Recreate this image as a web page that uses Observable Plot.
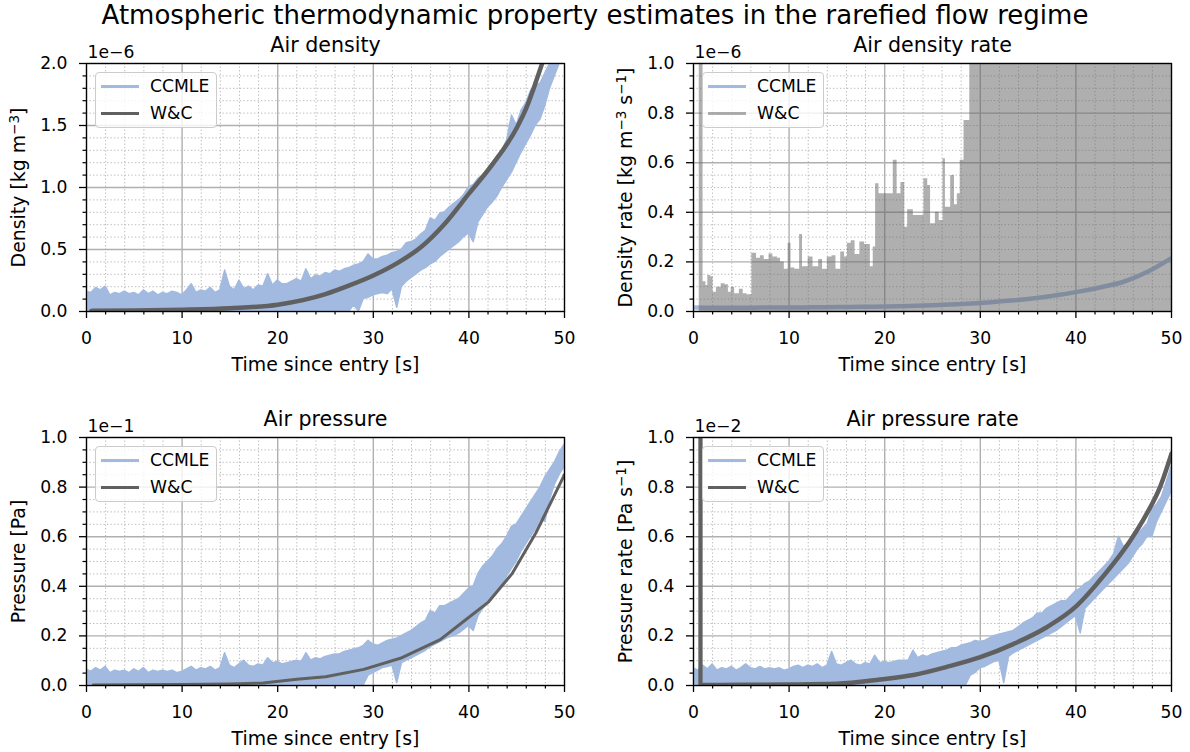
<!DOCTYPE html>
<html><head><meta charset="utf-8">
<script src="https://cdn.jsdelivr.net/npm/d3@7"></script>
<script src="https://cdn.jsdelivr.net/npm/@observablehq/plot@0.6"></script>
<style>
html,body{margin:0;padding:0;background:#fff;}
#root{position:relative;width:1190px;height:752px;overflow:hidden;font-family:"DejaVu Sans",sans-serif;color:#000;}
.suptitle{position:absolute;left:0;top:0;width:1190px;text-align:center;font-size:26px;line-height:30px;white-space:nowrap;}
.panel{position:absolute;}
.legend{position:absolute;box-sizing:border-box;background:rgba(255,255,255,0.8);border:1px solid #cccccc;border-radius:4px;}
.legend .sw{position:absolute;height:3px;}
.legend .lb{position:absolute;font-size:17.2px;line-height:20px;white-space:nowrap;}
</style>
</head><body><div id="root"><div class="suptitle">Atmospheric thermodynamic property estimates in the rarefied flow regime</div></div>
<script>
// ---------- data ----------
const seriesNames = ["CCMLE", "W&C"];
const xMajor = [0, 10, 20, 30, 40, 50];
const xMinor = [2,4,6,8,12,14,16,18,22,24,26,28,32,34,36,38,42,44,46,48];
const yMajorDensity = [0.0, 0.5, 1.0, 1.5, 2.0];
const yMinorDensity = [0.1,0.2,0.3,0.4,0.6,0.7,0.8,0.9,1.1,1.2,1.3,1.4,1.6,1.7,1.8,1.9];
const yMajorUnit = [0.0, 0.2, 0.4, 0.6, 0.8, 1.0];
const yMinorUnit = [0.05,0.1,0.15,0.25,0.3,0.35,0.45,0.5,0.55,0.65,0.7,0.75,0.85,0.9,0.95];

// sample times (s) of the CCMLE envelopes, every 0.5 s
const tBand = d3.range(0, 101).map(i => i / 2);

// Air density CCMLE envelope (x1e-6 kg m^-3)
const densityHi = [0.16,0.15,0.19,0.17,0.20,0.13,0.15,0.14,0.16,0.14,
 0.15,0.13,0.17,0.14,0.16,0.13,0.15,0.14,0.16,0.15,
 0.13,0.17,0.22,0.15,0.17,0.16,0.19,0.15,0.17,0.33,
 0.20,0.17,0.25,0.18,0.20,0.17,0.21,0.20,0.30,0.21,
 0.25,0.22,0.22,0.24,0.26,0.24,0.34,0.26,0.29,0.28,
 0.31,0.30,0.33,0.32,0.34,0.35,0.37,0.38,0.40,0.46,
 0.42,0.42,0.44,0.45,0.47,0.48,0.50,0.55,0.56,0.58,
 0.62,0.65,0.75,0.73,0.79,0.80,0.84,0.87,0.90,0.94,
 1.00,1.02,1.07,1.10,1.15,1.20,1.25,1.30,1.38,1.58,
 1.50,1.62,1.68,1.78,1.82,1.84,1.92,2.00,2.10,2.20,
 2.30];
const densityLo = [0,0,0,0,0,0,0,0,0,0,
 0,0,0,0,0,0,0,0,0,0,
 0,0,0,0,0,0,0,0,0,0,
 0,0,0,0,0,0,0,0,0,0,
 0,0,0,0,0,0,0,0,0,0,
 0,0,0,0,0,0,
 0.05,0.00,0.10,0.11,0.13,0.14,0.15,0.14,0.18,0.03,
 0.20,0.24,0.27,0.30,0.33,0.35,0.38,0.40,0.44,0.47,
 0.50,0.53,0.56,0.60,0.63,0.56,0.72,0.78,0.84,0.88,
 0.93,1.00,1.06,1.12,1.20,1.28,1.35,1.42,1.50,1.55,
 1.66,1.80,1.90,2.00,2.10];
// Air density W&C [t, value x1e-6]
const wcDensity = [[0.5,0.005],[5,0.008],[10,0.015],[15,0.027],[20,0.055],[25,0.14],[27.5,0.21],[30,0.29],[32.5,0.39],[35,0.52],[37.5,0.71],[40,0.95],[42.5,1.19],[45,1.48],[46,1.64],[47,1.85],[48,2.08]];

// Air density rate CCMLE [t, value x1e-6 kg m^-3 s^-1]
const ccmleDensityRate = [[0,0.016],[2.5,0.015],[5,0.015],[7.5,0.016],[10,0.016],[12.5,0.017],[15,0.018],[17.5,0.019],[20,0.02],[22.5,0.022],[25,0.025],[27.5,0.029],[30,0.034],[32.5,0.042],[35,0.05],[37.5,0.063],[40,0.078],[42.5,0.097],[45,0.12],[47.5,0.16],[50,0.215]];
// Air density rate W&C upper envelope (oscillates down to 0) [t, value x1e-6]
const wcDensityRate = [[0,0],[0.6,3],[1.0,0.12],[1.3,0.105],[1.5,0.145],[1.8,0.14],[2.05,0.078],[2.4,0.098],[2.9,0.112],[3.3,0.108],[3.65,0.078],[3.95,0.098],[4.3,0.072],[4.8,0.09],[5.2,0.072],[5.6,0.068],
 [6.1,0.235],[6.6,0.215],[7.0,0.225],[7.4,0.21],[7.9,0.232],[8.3,0.22],[8.8,0.215],[9.1,0.2],[9.5,0.17],[9.9,0.275],[10.2,0.175],[10.6,0.17],[11.1,0.31],[11.4,0.18],[12.0,0.22],[12.5,0.18],[13.1,0.21],[13.5,0.17],[14.0,0.22],[14.5,0.225],[14.9,0.17],[15.4,0.24],[15.8,0.22],[16.1,0.275],[16.5,0.285],[16.9,0.23],[17.4,0.28],[17.9,0.27],[18.5,0.18],[18.8,0.26],
 [19.05,0.515],[19.4,0.475],[20.9,0.61],[21.3,0.475],[21.7,0.52],[22.1,0.34],[22.4,0.41],[23.0,0.387],[24.1,0.535],[24.5,0.508],[24.8,0.354],[25.3,0.40],[25.7,0.367],[26.1,0.616],[26.35,0.42],[26.9,0.548],[27.3,0.43],[27.6,0.475],[27.9,0.61],[28.3,0.77],[28.9,3],[50,3]];

// Air pressure CCMLE envelope (x1e-1 Pa)
const pressureHi = [0.065,0.055,0.07,0.06,0.075,0.05,0.06,0.055,0.06,0.05,
 0.065,0.055,0.07,0.05,0.06,0.055,0.06,0.055,0.06,0.05,
 0.055,0.065,0.075,0.06,0.07,0.065,0.075,0.06,0.07,0.13,
 0.08,0.07,0.085,0.1,0.08,0.075,0.085,0.08,0.11,0.09,
 0.095,0.085,0.09,0.095,0.1,0.095,0.13,0.1,0.11,0.105,
 0.115,0.12,0.125,0.125,0.135,0.14,0.145,0.15,0.16,0.18,
 0.165,0.16,0.17,0.18,0.185,0.19,0.2,0.21,0.22,0.235,
 0.25,0.26,0.3,0.29,0.32,0.32,0.33,0.34,0.35,0.37,
 0.39,0.4,0.45,0.48,0.5,0.52,0.55,0.57,0.6,0.64,
 0.65,0.68,0.71,0.74,0.77,0.8,0.84,0.87,0.9,0.94,
 0.97];
const pressureLo = [0,0,0,0,0,0,0,0,0,0,
 0,0,0,0,0,0,0,0,0,0,
 0,0,0,0,0,0,0,0,0,0,
 0,0,0,0,0,0,0,0,0,0,
 0,0,0,0,0,0,0,0,0,0,
 0,0,0,0,0,0,0,0,
 0.0,0.04,0.05,0.06,0.07,0.075,0.08,0.01,0.09,0.1,
 0.11,0.12,0.13,0.14,0.155,0.165,0.175,0.185,0.195,0.2,
 0.21,0.225,0.24,0.22,0.28,0.31,0.33,0.35,0.38,0.41,
 0.44,0.47,0.5,0.54,0.57,0.6,0.63,0.67,0.66,0.75,
 0.81,0.85,0.88];
// Air pressure W&C [t, value x1e-1]
const wcPressure = [[0.7,0.002],[5,0.003],[10,0.004],[15,0.006],[18.5,0.01],[22,0.025],[25,0.035],[29,0.065],[33,0.112],[37,0.185],[39.5,0.26],[42,0.335],[44.5,0.45],[47,0.615],[50,0.85]];

// Air pressure rate CCMLE envelope (x1e-2 Pa s^-1)
const pressureRateHi = [0.07,0.06,0.08,0.065,0.085,0.06,0.07,0.065,0.075,0.06,
 0.07,0.085,0.07,0.065,0.075,0.065,0.07,0.065,0.07,0.06,
 0.065,0.075,0.08,0.07,0.08,0.075,0.085,0.07,0.08,0.135,
 0.085,0.08,0.09,0.1,0.085,0.08,0.09,0.085,0.12,0.09,
 0.095,0.09,0.095,0.1,0.1,0.1,0.14,0.11,0.12,0.115,
 0.125,0.13,0.135,0.14,0.15,0.15,0.16,0.165,0.17,0.18,
 0.175,0.18,0.19,0.2,0.205,0.21,0.215,0.22,0.235,0.25,
 0.26,0.27,0.29,0.29,0.31,0.32,0.33,0.34,0.34,0.36,
 0.38,0.39,0.41,0.42,0.44,0.46,0.48,0.5,0.53,0.6,
 0.56,0.57,0.59,0.61,0.63,0.65,0.71,0.73,0.76,0.82,
 0.88];
const pressureRateLo = [0,0,0,0,0,0,0,0,0,0,
 0,0,0,0,0,0,0,0,0,0,
 0,0,0,0,0,0,0,0,0,0,
 0,0,0,0,0,0,0,0,0,0,
 0,0,0,0,0,0,0,0,0,0,
 0,0,0,0,0,0,0,
 0.0,0.04,0.05,0.07,0.075,0.085,0.095,0.1,0.01,0.115,
 0.13,0.14,0.15,0.16,0.17,0.18,0.19,0.2,0.21,0.22,
 0.235,0.25,0.265,0.28,0.21,0.31,0.33,0.35,0.37,0.39,
 0.41,0.43,0.45,0.47,0.49,0.52,0.55,0.57,0.6,0.6,
 0.66,0.7,0.74,0.78];
// Air pressure rate W&C [t, value x1e-2] and its initial spike time
const wcPressureRate = [[0.9,0.002],[5,0.003],[10,0.004],[15,0.007],[19.5,0.024],[23,0.042],[26.5,0.075],[30,0.114],[33.5,0.168],[36.9,0.234],[40.1,0.322],[42.2,0.41],[43.9,0.49],[45.7,0.585],[47.4,0.692],[48.8,0.80],[50,0.935]];
const wcPressureRateSpike = [0.73];

for (const [n, a] of [["densityHi",densityHi],["densityLo",densityLo],["pressureHi",pressureHi],["pressureLo",pressureLo],["pressureRateHi",pressureRateHi],["pressureRateLo",pressureRateLo]])
  if (a.length !== tBand.length) throw new Error(n + " length " + a.length);

// ---------- styling ----------
const BLUE = "#a2badf";
const DARK = "#606060";
const GRID = "#b0b0b0";
const band = (hi, lo) => tBand.map((t, i) => ({t, hi: hi[i], lo: lo[i]}));

const root = document.getElementById("root");
const FRAME_W = 478, FRAME_H = 248, MT = 33, MB = 65;
const SVGNS = "http://www.w3.org/2000/svg";

// render a label given as [text, superscript, text, superscript, ...] with real superscripts
function setSuperscripts(textEl, parts) {
  while (textEl.firstChild) textEl.removeChild(textEl.firstChild);
  parts.forEach((p, i) => {
    const ts = document.createElementNS(SVGNS, "tspan");
    ts.textContent = p;
    if (i % 2 === 1) {
      ts.setAttribute("font-size", "13.5px");
      ts.setAttribute("dy", "-0.42em");
    } else if (i > 0) {
      ts.setAttribute("dy", "0.31em");
    }
    textEl.appendChild(ts);
  });
}

function panel({left, top, frameLeft, yDomain, yMajor, yMinor, title, offset, yLabelParts, marks, legend}) {
  const ml = frameLeft - left;
  const width = 595;
  const mr = width - ml - FRAME_W;
  const yLabel = yLabelParts.join("");
  const svg = Plot.plot({
    width, height: MT + FRAME_H + MB,
    marginLeft: ml, marginRight: mr, marginTop: MT, marginBottom: MB,
    x: {domain: [0, 50]},
    y: {domain: yDomain},
    style: {fontFamily: "DejaVu Sans, sans-serif", fontSize: "17.2px", color: "#000", background: "transparent", overflow: "visible"},
    marks: [
      Plot.gridX(xMinor, {stroke: GRID, strokeOpacity: 0.9, strokeWidth: 1, strokeDasharray: "1.3,2.2"}),
      Plot.gridY(yMinor, {stroke: GRID, strokeOpacity: 0.9, strokeWidth: 1, strokeDasharray: "1.3,2.2"}),
      Plot.gridX(xMajor, {stroke: GRID, strokeOpacity: 1, strokeWidth: 1.4}),
      Plot.gridY(yMajor, {stroke: GRID, strokeOpacity: 1, strokeWidth: 1.4}),
      ...marks,
      Plot.frame({stroke: "#000", strokeWidth: 1.3}),
      Plot.axisX({ticks: xMinor, tickSize: 3.5, tickFormat: () => "", label: null, strokeWidth: 1.2}),
      Plot.axisX({ticks: xMajor, tickSize: 7, tickPadding: 13, tickFormat: d => String(d), label: null, strokeWidth: 1.3}),
      Plot.axisY({ticks: yMinor, tickSize: 3.5, tickFormat: () => "", label: null, strokeWidth: 1.2}),
      Plot.axisY({ticks: yMajor, tickSize: 7, tickPadding: 12, tickFormat: d => d.toFixed(1), label: null, strokeWidth: 1.3}),
      Plot.text([title], {frameAnchor: "top", dy: -12, lineAnchor: "bottom", fontSize: 20.6}),
      Plot.text([offset], {frameAnchor: "top-left", dy: -6, dx: 1, lineAnchor: "bottom", textAnchor: "start", fontSize: 17.2}),
      Plot.text([yLabel], {frameAnchor: "left", rotate: -90, dx: -68, lineAnchor: "middle", textAnchor: "middle", fontSize: 18.9, className: "ylab"}),
      Plot.text(["Time since entry [s]"], {frameAnchor: "bottom", dy: 53, lineAnchor: "middle", fontSize: 18.9})
    ]
  });
  if (yLabelParts.length > 1) {
    svg.querySelectorAll("text").forEach(t => { if (t.textContent === yLabel) setSuperscripts(t, yLabelParts); });
  }
  const wrap = document.createElement("div");
  wrap.className = "panel";
  wrap.style.left = left + "px";
  wrap.style.top = top + "px";
  wrap.appendChild(svg);
  root.appendChild(wrap);

  // legend inside the upper-left corner of the frame
  const lg = document.createElement("div");
  lg.className = "legend";
  lg.style.left = (frameLeft + 9) + "px";
  lg.style.top = (top + MT + 9) + "px";
  lg.style.width = "122px";
  lg.style.height = "56px";
  legend.forEach((c, i) => {
    const sw = document.createElement("div");
    sw.className = "sw";
    sw.style.left = "5px"; sw.style.width = "38px";
    sw.style.top = (13 + 27 * i - 1.5) + "px";
    sw.style.background = c;
    lg.appendChild(sw);
    const lb = document.createElement("div");
    lb.className = "lb";
    lb.style.left = "54px";
    lb.style.top = (13 + 27 * i - 10) + "px";
    lb.textContent = seriesNames[i];
    lg.appendChild(lb);
  });
  root.appendChild(lg);
}

// Air density
panel({
  left: 0, top: 30, frameLeft: 86,
  yDomain: [0, 2.0], yMajor: yMajorDensity, yMinor: yMinorDensity,
  title: "Air density", offset: "1e\u22126", yLabelParts: ["Density [kg m", "\u22123", "]"],
  legend: [BLUE, DARK],
  marks: [
    Plot.areaY(band(densityHi, densityLo), {x: "t", y1: "lo", y2: "hi", fill: BLUE, stroke: BLUE, strokeWidth: 1.5, curve: "linear", clip: true}),
    Plot.line(wcDensity, {x: d => d[0], y: d => d[1], stroke: DARK, strokeWidth: 4.5, curve: "monotone-x", clip: true})
  ]
});

// Air density rate
panel({
  left: 595, top: 30, frameLeft: 693,
  yDomain: [0, 1.0], yMajor: yMajorUnit, yMinor: yMinorUnit,
  title: "Air density rate", offset: "1e\u22126", yLabelParts: ["Density rate [kg m", "\u22123", " s", "\u22121", "]"],
  legend: [BLUE, "rgba(96,96,96,0.5)"],
  marks: [
    Plot.line(ccmleDensityRate, {x: d => d[0], y: d => d[1], stroke: BLUE, strokeWidth: 4.5, curve: "monotone-x", clip: true}),
    Plot.areaY(wcDensityRate, {x: d => d[0], y1: 0, y2: d => d[1], fill: DARK, fillOpacity: 0.5, curve: "step-after", clip: true})
  ]
});

// Air pressure
panel({
  left: 0, top: 404, frameLeft: 86,
  yDomain: [0, 1.0], yMajor: yMajorUnit, yMinor: yMinorUnit,
  title: "Air pressure", offset: "1e\u22121", yLabelParts: ["Pressure [Pa]"],
  legend: [BLUE, DARK],
  marks: [
    Plot.areaY(band(pressureHi, pressureLo), {x: "t", y1: "lo", y2: "hi", fill: BLUE, stroke: BLUE, strokeWidth: 1.5, curve: "linear", clip: true}),
    Plot.line(wcPressure, {x: d => d[0], y: d => d[1], stroke: DARK, strokeWidth: 3, clip: true})
  ]
});

// Air pressure rate
panel({
  left: 595, top: 404, frameLeft: 693,
  yDomain: [0, 1.0], yMajor: yMajorUnit, yMinor: yMinorUnit,
  title: "Air pressure rate", offset: "1e\u22122", yLabelParts: ["Pressure rate [Pa s", "\u22121", "]"],
  legend: [BLUE, DARK],
  marks: [
    Plot.areaY(band(pressureRateHi, pressureRateLo), {x: "t", y1: "lo", y2: "hi", fill: BLUE, stroke: BLUE, strokeWidth: 1.5, curve: "linear", clip: true}),
    Plot.ruleX(wcPressureRateSpike, {x: d => d, y1: 0, y2: 1.0, stroke: DARK, strokeWidth: 4.3, clip: true}),
    Plot.line(wcPressureRate, {x: d => d[0], y: d => d[1], stroke: DARK, strokeWidth: 4.5, curve: "monotone-x", clip: true})
  ]
});
</script>
</body></html>
